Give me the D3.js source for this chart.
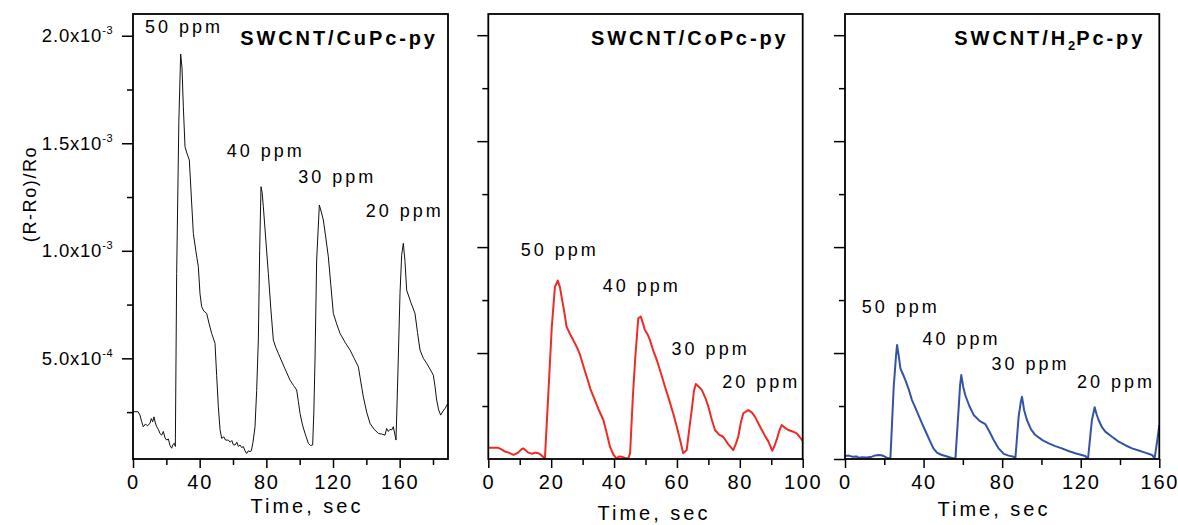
<!DOCTYPE html>
<html>
<head>
<meta charset="utf-8">
<script src="https://cdn.jsdelivr.net/npm/d3@7/dist/d3.min.js"></script>
<style>
body { margin: 0; background: #fff; }
text { font-family: "Liberation Sans", Arial, sans-serif; fill: #000; }
</style>
</head>
<body>
<div id="container"></div>
<script>
var W = 1178, H = 525;

// response values are in units of 1e-3, time in seconds
var cuTime = [0,3,4.2,5.2,6.2,7.5,8.6,10.2,11,11.8,12.6,13.4,14.2,15.2,16.2,17.2,18.2,19.2,20.2,21.2,22.2,23.2,24,24.8,25.4,26.2,27.5,28.6,29.4,30.2,31.2,32.5,33.8,35,36.2,37.7,39.2,40.2,41.2,42.5,44.2,45.7,47.2,49.2,50.2,51.2,52.2,53.2,54.5,55.5,57.2,58.3,59.3,60.2,61.2,62.3,63.2,64.2,65.2,66.2,67.2,68.2,69.2,70.2,71,72,73.2,74.2,75.2,76,76.8,77.5,78.2,79.7,81.2,82.7,84.2,85.7,87.2,90.7,94.2,96.2,98.2,99.2,100.2,101.7,103.2,105.2,106.5,107.8,108.5,109.2,110.2,111.8,113,114.2,115.7,117.2,118.7,120.2,122.2,124.2,127.2,130.2,132.7,135.2,136.7,138.2,140.2,142.2,144.7,147.2,149.2,151.2,152.2,153.2,154.2,155.2,156.2,157.8,159,160.2,161.2,162.2,163.2,164.2,166.7,169.2,170.7,172.2,174.2,176.2,178.2,180.2,181.2,182.2,183.4,184.6,186,187.2,189];
var cuResp = [0.252,0.252,0.236,0.205,0.182,0.195,0.186,0.198,0.22,0.205,0.228,0.2,0.182,0.17,0.15,0.143,0.16,0.13,0.12,0.125,0.095,0.082,0.1,0.105,0.09,0.895,1.6,1.915,1.85,1.67,1.484,1.45,1.422,1.25,1.081,1.0,0.926,0.8,0.74,0.72,0.709,0.66,0.616,0.57,0.42,0.275,0.17,0.128,0.135,0.12,0.12,0.11,0.118,0.098,0.097,0.11,0.09,0.097,0.085,0.09,0.07,0.058,0.07,0.066,0.07,0.11,0.182,0.35,0.585,1.0,1.298,1.27,1.205,1.05,0.895,0.73,0.585,0.55,0.523,0.46,0.399,0.375,0.353,0.3,0.244,0.19,0.151,0.105,0.095,0.097,0.25,0.492,0.957,1.213,1.18,1.143,1.06,0.972,0.84,0.709,0.66,0.616,0.575,0.539,0.5,0.461,0.39,0.321,0.25,0.198,0.17,0.151,0.148,0.143,0.174,0.16,0.17,0.167,0.182,0.12,0.45,0.802,0.98,1.035,0.95,0.817,0.76,0.709,0.62,0.539,0.5,0.477,0.45,0.422,0.37,0.306,0.26,0.236,0.255,0.267,0.291];

var coTime = [0,3.2,4.2,5.3,6.5,8,9.5,10.5,11.1,12,12.7,14,14.9,15.8,16.4,17.3,18,19.1,20.2,21.2,22.1,22.8,23.3,24.1,24.9,26,27,28.1,29.2,30.2,31.3,32.5,33.9,35.2,36.6,37.7,38.7,39.8,40.8,41.6,42.4,43.5,44.5,45.1,46,46.7,47.7,48.5,49.2,49.8,50.6,51.4,52.5,53.6,55,56.2,57.5,58.8,60,61,62,63.1,64,64.7,65.4,66,67,67.9,69,70,71,72.1,73.4,74.7,76.3,77.9,78.7,79.5,80.3,81.1,82.7,83.8,84.8,86,87,88,89.1,90.3,91,91.7,92.5,93.3,94.3,95.4,96.8,98.1,99,100];
var coResp = [0.053,0.053,0.045,0.035,0.03,0.019,0.03,0.045,0.05,0.04,0.03,0.025,0.03,0.028,0.024,0.012,0,0.31,0.624,0.813,0.842,0.81,0.766,0.7,0.624,0.59,0.562,0.53,0.491,0.44,0.388,0.33,0.278,0.23,0.184,0.12,0.058,0.02,0.003,0.012,0.011,0.005,0.003,0.027,0.3,0.467,0.664,0.672,0.64,0.609,0.59,0.562,0.51,0.467,0.4,0.341,0.28,0.216,0.15,0.09,0.027,0.042,0.15,0.231,0.32,0.354,0.34,0.326,0.29,0.247,0.19,0.137,0.115,0.105,0.07,0.042,0.07,0.105,0.17,0.216,0.231,0.22,0.2,0.165,0.137,0.11,0.082,0.039,0.06,0.09,0.13,0.16,0.148,0.137,0.13,0.121,0.105,0.085];

var h2Time = [0,2,3.6,6,7,8.7,11,13.7,15.5,17.1,18.5,19.7,21,23.1,24.8,26,26.5,27.3,28.2,29.5,30.7,32.4,34.1,36.6,39.2,41.3,43.4,45,46.8,49,51.1,54,56.2,57.9,58.6,59.2,60.2,61.2,63.3,65.5,68.5,71.4,73.5,75.7,78.2,80.8,83.3,85.9,86.7,88.4,89.5,90.1,91.2,92.6,94.7,96.9,100.3,103.7,107,110.4,113.8,117.2,120,122.3,123.7,125.7,127.1,128.1,129.1,130.8,132.5,135.9,139.3,142.7,146.1,149.5,152.8,156.3,157.6,159,159.7,160];
var h2Resp = [0.014,0.016,0.011,0.012,0.006,0.008,0.007,0.011,0.017,0.019,0.018,0.014,0.008,0,0.341,0.49,0.538,0.49,0.428,0.4,0.373,0.33,0.278,0.225,0.168,0.125,0.082,0.05,0.03,0.02,0.014,0.006,0,0.247,0.35,0.396,0.34,0.302,0.25,0.208,0.18,0.165,0.13,0.09,0.05,0.024,0.016,0.011,0,0.2,0.27,0.294,0.23,0.184,0.14,0.113,0.09,0.074,0.061,0.05,0.038,0.027,0.02,0.014,0,0.184,0.244,0.21,0.184,0.15,0.129,0.105,0.082,0.065,0.05,0.04,0.03,0.019,0.003,0.09,0.137,0.16];

var ppmLabels = ["50 ppm", "40 ppm", "30 ppm", "20 ppm"];
var cuLabelAt = [[7.2, 2.013], [56.2, 1.436], [99.2, 1.314], [139.6, 1.158]];
var coLabelAt = [[10.3, 0.958], [36.4, 0.79], [58.3, 0.491], [74.4, 0.336]];
var h2LabelAt = [[8.5, 0.688], [39.5, 0.538], [74.6, 0.42], [118.1, 0.334]];

var cuTitle = [["SWCNT/CuPc-py", false]];
var coTitle = [["SWCNT/CoPc-py", false]];
var h2Title = [["SWCNT/H", false], ["2", true], ["Pc-py", false]];

var xMajorCu = [0, 40, 80, 120, 160], xMinorCu = [20, 60, 100, 140, 180];
var xMajorCo = [0, 20, 40, 60, 80, 100], xMinorCo = [10, 30, 50, 70, 90];
var xMajorH2 = [0, 40, 80, 120, 160], xMinorH2 = [20, 60, 100, 140];
var yMajor = [0.5, 1.0, 1.5, 2.0], yMajorH2 = [0, 0.5, 1.0, 1.5, 2.0];
var yMinor = [0.25, 0.75, 1.25, 1.75];
var yTickMant = ["5.0x10", "1.0x10", "1.5x10", "2.0x10"];
var yTickExp = ["-4", "-3", "-3", "-3"];

var plotTop = 14, plotBottom = 459;
var panels = [
  {time: cuTime, resp: cuResp, color: "#111", lw: 1, left: 133, right: 448, xMax: 189, yMin: 0.032, yMax: 2.101,
   xMajor: xMajorCu, xMinor: xMinorCu, yMajor: yMajor, labels: cuLabelAt, title: cuTitle, titleGap: 13, xlab: [307, 513], yLabels: true},
  {time: coTime, resp: coResp, color: "#ee2b24", lw: 2, left: 488.3, right: 802.7, xMax: 100, yMin: 0, yMax: 2.1,
   xMajor: xMajorCo, xMinor: xMinorCo, yMajor: yMajor, labels: coLabelAt, title: coTitle, titleGap: 17, xlab: [654, 520], yLabels: false},
  {time: h2Time, resp: h2Resp, color: "#3553a6", lw: 2, left: 845, right: 1159.3, xMax: 160, yMin: 0, yMax: 2.1,
   xMajor: xMajorH2, xMinor: xMinorH2, yMajor: yMajorH2, labels: h2LabelAt, title: h2Title, titleGap: 17, xlab: [994, 516], yLabels: false}
];

var svg = d3.select("#container").append("svg")
    .attr("width", W).attr("height", H)
    .style("background-color", "white");

panels.forEach(function(p, i) {
  var x = d3.scaleLinear().domain([0, p.xMax]).range([p.left, p.right]);
  var y = d3.scaleLinear().domain([p.yMin, p.yMax]).range([plotBottom, plotTop]);
  var g = svg.append("g");

  g.append("clipPath").attr("id", "clip" + i)
    .append("rect")
    .attr("x", p.left).attr("y", plotTop)
    .attr("width", p.right - p.left).attr("height", plotBottom - plotTop);

  // x ticks (outward)
  var xa = g.append("g")
      .attr("transform", "translate(0," + plotBottom + ")")
      .call(d3.axisBottom(x).tickValues(p.xMajor).tickSizeInner(9).tickSizeOuter(0).tickPadding(6.5).tickFormat(d3.format("d")));
  xa.select(".domain").remove();
  xa.selectAll("line").attr("stroke-width", 1.5);
  xa.selectAll("text")
      .attr("font-family", "Liberation Sans, Arial, sans-serif")
      .attr("font-size", 20).attr("letter-spacing", 1.7).attr("fill", "#000");

  var xm = g.append("g")
      .attr("transform", "translate(0," + plotBottom + ")")
      .call(d3.axisBottom(x).tickValues(p.xMinor).tickSizeInner(6).tickSizeOuter(0).tickFormat(""));
  xm.select(".domain").remove();
  xm.selectAll("line").attr("stroke-width", 1.5);

  // y ticks (outward)
  var ya = g.append("g")
      .attr("transform", "translate(" + p.left + ",0)")
      .call(d3.axisLeft(y).tickValues(p.yMajor).tickSizeInner(11).tickSizeOuter(0).tickFormat(""));
  ya.select(".domain").remove();
  ya.selectAll("line").attr("stroke-width", 1.5);

  var ym = g.append("g")
      .attr("transform", "translate(" + p.left + ",0)")
      .call(d3.axisLeft(y).tickValues(yMinor).tickSizeInner(6).tickSizeOuter(0).tickFormat(""));
  ym.select(".domain").remove();
  ym.selectAll("line").attr("stroke-width", 1.5);

  if (p.yLabels) {
    var lab = g.selectAll(".ylab")
        .data(p.yMajor)
        .enter().append("text")
        .attr("class", "ylab")
        .attr("x", p.left - 20)
        .attr("y", function(d) { return y(d) + 6.5; })
        .attr("text-anchor", "end")
        .attr("font-size", 18.5)
        .attr("letter-spacing", 0.8);
    lab.append("tspan").text(function(d, j) { return yTickMant[j]; });
    lab.append("tspan")
        .attr("font-size", 11)
        .attr("dy", -8)
        .attr("letter-spacing", 0.5)
        .text(function(d, j) { return yTickExp[j]; });
  }

  // data line
  var pts = p.time.map(function(t, j) { return [t, p.resp[j]]; });
  g.append("path")
      .datum(pts)
      .attr("clip-path", "url(#clip" + i + ")")
      .attr("fill", "none")
      .attr("stroke", p.color)
      .attr("stroke-width", p.lw)
      .attr("stroke-linejoin", "round")
      .attr("d", d3.line().x(function(d) { return x(d[0]); }).y(function(d) { return y(d[1]); }));

  // frame
  g.append("rect")
      .attr("x", p.left).attr("y", plotTop)
      .attr("width", p.right - p.left).attr("height", plotBottom - plotTop)
      .attr("fill", "none").attr("stroke", "#000").attr("stroke-width", 1.8);

  // concentration labels
  g.selectAll(".ppm")
      .data(p.labels)
      .enter().append("text")
      .attr("class", "ppm")
      .attr("x", function(d) { return x(d[0]); })
      .attr("y", function(d) { return y(d[1]); })
      .attr("font-size", 18)
      .attr("letter-spacing", 3)
      .text(function(d, j) { return ppmLabels[j]; });

  // title
  var tt = g.append("text")
      .attr("x", p.right - p.titleGap + 2.9)
      .attr("y", 45)
      .attr("text-anchor", "end")
      .attr("font-size", 20)
      .attr("font-weight", "bold")
      .attr("letter-spacing", 2.9);
  p.title.forEach(function(s, k) {
    var ts = tt.append("tspan").text(s[0]);
    if (s[1]) ts.attr("font-size", 13).attr("dy", 5).attr("letter-spacing", 1);
    else if (k > 0 && p.title[k - 1][1]) ts.attr("dy", -5);
  });

  // x axis title
  g.append("text")
      .attr("x", p.xlab[0]).attr("y", p.xlab[1])
      .attr("text-anchor", "middle")
      .attr("font-size", 20)
      .attr("letter-spacing", 3)
      .text("Time, sec");
});

svg.append("text")
    .attr("transform", "translate(36,194) rotate(-90)")
    .attr("text-anchor", "middle")
    .attr("font-size", 18)
    .attr("letter-spacing", 1.6)
    .text("(R-Ro)/Ro");
</script>
</body>
</html>
